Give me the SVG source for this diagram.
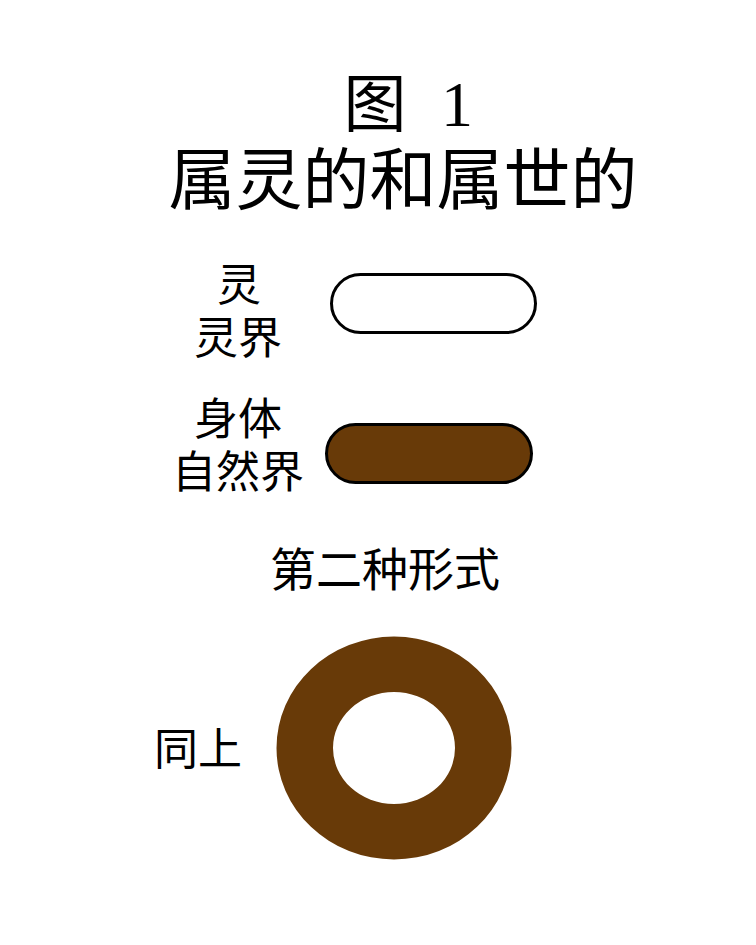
<svg xmlns="http://www.w3.org/2000/svg" width="756" height="945" viewBox="0 0 756 945">
<style>
.cjk{font-family:"Noto Sans CJK SC","Noto Sans CJK JP",sans-serif;fill:#000;text-anchor:middle}
.lbl{font-size:44px}
.brown{fill:#683A08}
</style>
<rect width="756" height="945" fill="#fff"/>
<g id="title">
<text class="cjk" x="375" y="126" font-size="63">图</text>
<text x="457" y="126" font-size="64" font-family="'Liberation Serif',serif" text-anchor="middle">1</text>
<text class="cjk" x="403" y="204" font-size="67">属灵的和属世的</text>
</g>
<g id="spirit">
<rect x="331.5" y="274.5" width="204" height="58" rx="29" ry="29" fill="#fff" stroke="#000" stroke-width="3"/>
<text class="cjk lbl" x="239" y="301">灵</text>
<text class="cjk lbl" x="238" y="354">灵界</text>
</g>
<g id="body">
<rect x="326.5" y="424.5" width="205" height="58" rx="29" ry="29" class="brown" stroke="#000" stroke-width="3"/>
<text class="cjk lbl" x="238" y="435">身体</text>
<text class="cjk lbl" x="238" y="488">自然界</text>
</g>
<g id="second">
<text class="cjk" x="385" y="586" font-size="46">第二种形式</text>
</g>
<g id="ring">
<path class="brown" fill-rule="evenodd" d="M276.5,748 a117.5,111.5 0 1,0 235,0 a117.5,111.5 0 1,0 -235,0 Z M333,748 a61,56 0 1,0 122,0 a61,56 0 1,0 -122,0 Z"/>
<text class="cjk lbl" x="198" y="765">同上</text>
</g>
<g id="connectors"/>
</svg>
